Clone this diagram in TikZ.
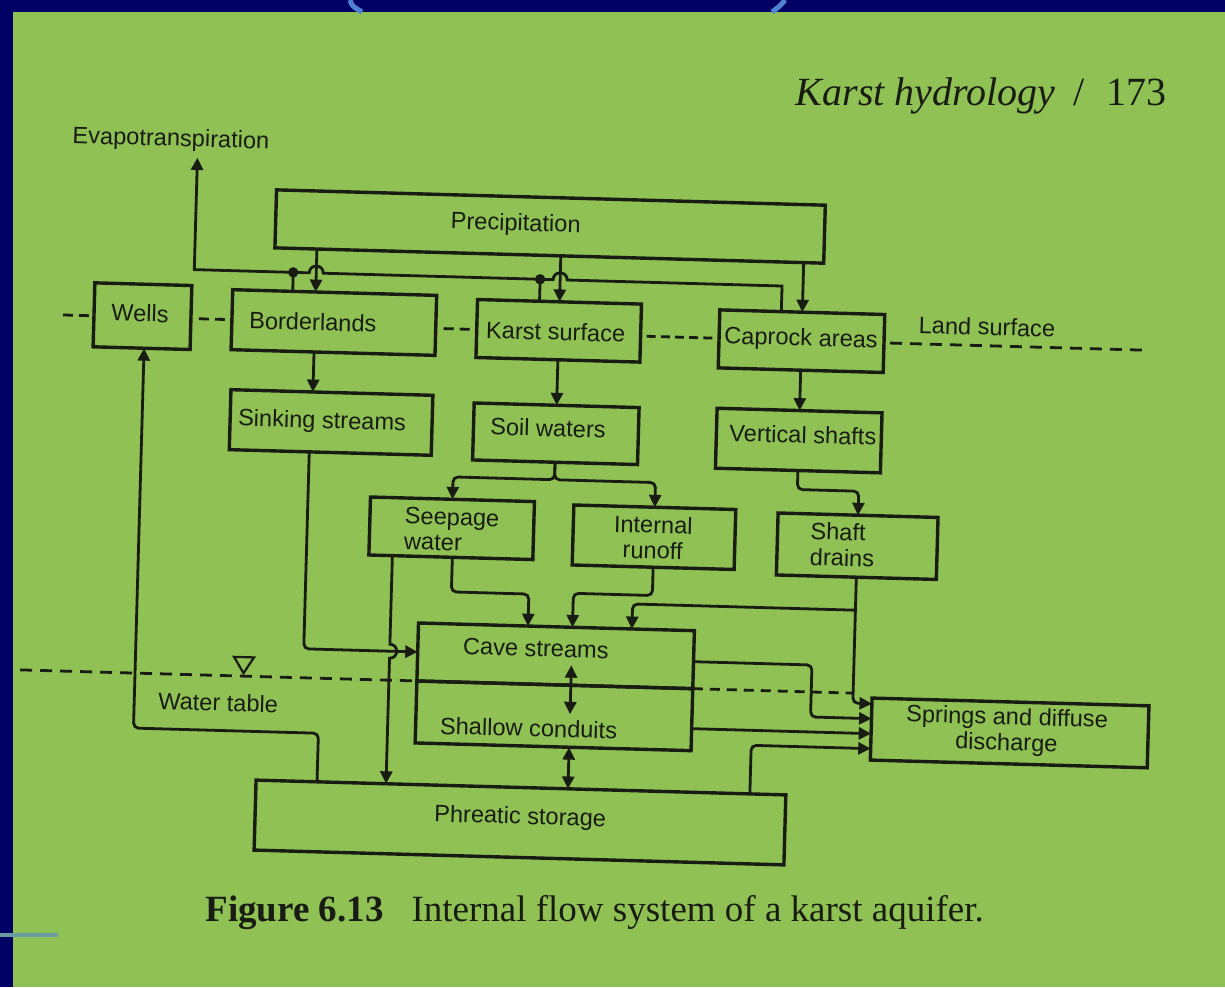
\documentclass[tikz,border=0pt]{standalone}
\usepackage{fontspec}
\setmainfont{Liberation Serif}
\newfontfamily\diagfont{Liberation Sans}
\usetikzlibrary{arrows.meta,calc}
\definecolor{pagegreen}{RGB}{143,193,84}
\definecolor{slideblue}{RGB}{0,0,100}
\definecolor{swoosh}{RGB}{80,130,210}
\definecolor{ink}{RGB}{24,28,18}
\tikzset{
  bx/.style 2 args={draw=ink, line width=1.7pt, minimum width=#1*0.5pt, minimum height=#2*0.5pt, inner sep=0pt, outer sep=0pt},
  lbl/.style={text=ink, font=\diagfont\fontsize{11.8}{12.8}\selectfont, inner sep=1pt},
  conn/.style={draw=ink, line width=1.4pt, rounded corners=2.5pt},
  wire/.style={draw=ink, line width=1.4pt},
  arr/.style={-{Triangle[length=6.2pt,width=6pt]}},
  darr/.style={{Triangle[length=6.2pt,width=6pt]}-{Triangle[length=6.2pt,width=6pt]}},
  shortdash/.style={draw=ink, line width=1.4pt, dash pattern=on 5pt off 3pt},
  longdash/.style={draw=ink, line width=1.4pt, dash pattern=on 6pt off 4pt},
}
\begin{document}
\begin{tikzpicture}[x=0.5pt,y=-0.5pt]
\useasboundingbox (0,0) rectangle (1225,987);
% page and slide frame
\fill[pagegreen] (0,0) rectangle (1225,987);
\fill[slideblue] (0,0) rectangle (1225,12);
\fill[slideblue] (0,0) rectangle (13,987);
\draw[swoosh, line width=2.5pt] (350,0) .. controls (352,6) .. (362,12);
\draw[swoosh, line width=2.5pt] (785,0) .. controls (780,6) .. (772,12);
\draw[swoosh!60!pagegreen, line width=2pt] (0,935) -- (58,935);

% header and caption
\node[anchor=base east, text=ink, font=\fontsize{20}{22}\selectfont, inner sep=0pt] (hdr) at (1167,105)
  {\textit{Karst hydrology}\hspace{9pt}/\hspace{11pt}173};
\node[anchor=base west, text=ink, font=\fontsize{18.5}{20}\selectfont, inner sep=0pt] (cap) at (205,921)
  {\textbf{Figure 6.13}\hspace{14pt}Internal flow system of a karst aquifer.};

\begin{scope}[transform canvas={rotate around={-1.6:(600,500)}}]
% boxes
\node[bx={549}{58}] (prec) at (542.5,228) {};
\node[bx={97}{64}] (wells) at (137.5,329) {};
\node[bx={204}{60}] (border) at (329,330) {};
\node[bx={164}{58}] (karst) at (554,332) {};
\node[bx={165}{58}] (caprock) at (797,335.6) {};
\node[bx={202}{60}] (sinking) at (329,430) {};
\node[bx={165}{57}] (soil) at (554,435) {};
\node[bx={165}{60}] (vshaft) at (797,435) {};
\node[bx={164}{58}] (seep) at (452.5,532.4) {};
\node[bx={162}{60}] (runoff) at (655,535.7) {};
\node[bx={160}{62}] (sdrain) at (858.4,539) {};
\node[bx={276}{58}] (cave) at (560,657) {};
\node[bx={276}{62}] (shallow) at (560,717) {};
\node[bx={530}{70}] (phreatic) at (529,824.6) {};
\node[bx={277}{62}] (springs) at (1016,721.4) {};

% labels
\node[lbl] (evap) at (161,152) {Evapotranspiration};
\node[lbl] (precT) at (508,227) {Precipitation};
\node[lbl] (wellsT) at (135,326) {Wells};
\node[lbl] (borderT) at (308,330) {Borderlands};
\node[lbl] (karstT) at (551,333) {Karst surface};
\node[lbl] (caprockT) at (796.5,334) {Caprock areas};
\node[lbl] (landT) at (982,316) {Land surface};
\node[lbl] (sinkingT) at (320,430) {Sinking streams};
\node[lbl] (soilT) at (546,429.5) {Soil waters};
\node[lbl] (vshaftT) at (801,429) {Vertical shafts};
\node[lbl, align=left, anchor=west] (seepT) at (403,534) {Seepage\\water};
\node[lbl, align=center] (runoffT) at (654,536) {Internal\\runoff};
\node[lbl, align=left, anchor=west] (sdrainT) at (809,538) {Shaft\\drains};
\node[lbl] (caveT) at (540,650) {Cave streams};
\node[lbl] (shallowT) at (535,730) {Shallow conduits};
\node[lbl] (wtT) at (224,713) {Water table};
\node[lbl] (phreaticT) at (529,820) {Phreatic storage};
\node[lbl, align=center] (springsT) at (1013,720) {Springs and diffuse\\discharge};

% land surface line
\draw[shortdash] (58,330) -- (84,330);
\draw[shortdash] (194,330) -- (220,330);
\draw[shortdash] (439,333) -- (465,333);
\draw[draw=ink, line width=1.4pt, dash pattern=on 4.5pt off 2.6pt] (642,335) -- (710,335);
\draw[longdash] (885.5,335) -- (1139,335);

% water table
\draw[longdash] (25,686) -- (cave.south west);
\draw[draw=ink, line width=1.4pt, dash pattern=on 5pt off 3.5pt] (cave.south east) -- (858.4,686);
\draw[ink, line width=1.1pt, line join=miter] (238.5,667) -- (258.5,667) -- (248.5,683) -- cycle;

% evapotranspiration collector
\coordinate (evaptip) at (188,169);
\draw[wire, arr] (776,0 |- caprock.north) -- (776,281) -- (561,281)
  .. controls (561,271.7) and (547,271.7) .. (547,281) -- (317,281)
  .. controls (317,271.7) and (303,271.7) .. (303,281) -- (188,281) -- (evaptip);
\fill[ink] (287,281) circle (2.6pt);
\fill[ink] (534,281) circle (2.6pt);
\draw[wire] (287,281) -- (287,0 |- border.north);
\draw[wire] (534,281) -- (534,0 |- karst.north);

% precipitation to surfaces
\draw[wire, arr] (310,0 |- prec.south) -- (310,0 |- border.north);
\draw[wire, arr] (prec.south -| karst.north) -- (karst.north);
\draw[wire, arr] (prec.south -| caprock.north) -- (caprock.north);

% second row
\draw[wire, arr] (310,0 |- border.south) -- (310,0 |- sinking.north);
\draw[wire, arr] (karst.south) -- (soil.north);
\draw[wire, arr] (caprock.south) -- (vshaft.north);

% soil waters split
\draw[conn, arr] (soil.south) -- (554,481) -| (seep.north);
\draw[conn, arr] (soil.south) -- (554,481) -| (runoff.north);
% vertical shafts to shaft drains
\draw[conn, arr] (vshaft.south) -- (797,484) -| (sdrain.north);

% into cave streams
\draw[conn, arr] (454,0 |- seep.south) |- (531.5,596) -- (531.5,0 |- cave.north);
\draw[conn, arr] (runoff.south) |- (576,594) -- (576,0 |- cave.north);
\draw[conn, arr] (858.4,603) -| (635.5,0 |- cave.north);
\draw[conn, arr] (308,0 |- sinking.south) |- (cave.west);

% seepage to phreatic (hops over the sinking-stream line)
\draw[wire, arr] (394,0 |- seep.south) -- (394,650)
  .. controls (403.3,650) and (403.3,664) .. (394,664) -- (394,0 |- phreatic.north);

% phreatic to wells
\draw[conn, arr] (325,0 |- phreatic.north) -- (325,741) -- (140,741) -- (140,0 |- wells.south);

% exchanges
\coordinate (dtop) at (576,666);
\coordinate (dbot) at (576,715);
\draw[wire, darr] (dtop) -- (dbot);
\draw[wire, darr] (576,0 |- shallow.south) -- (576,0 |- phreatic.north);

% to springs
\draw[conn, arr] (sdrain.south) |- (springs.west |- 0,696);
\draw[conn, arr] (cave.east |- 0,659) -- (816.5,659) -- (816.5,711) -- (springs.west |- 0,711);
\draw[wire, arr] (shallow.east |- 0,726) -- (springs.west |- 0,726);
\draw[conn, arr] (758,0 |- phreatic.north) |- (springs.west |- 0,741);
\end{scope}
\end{tikzpicture}
\end{document}
